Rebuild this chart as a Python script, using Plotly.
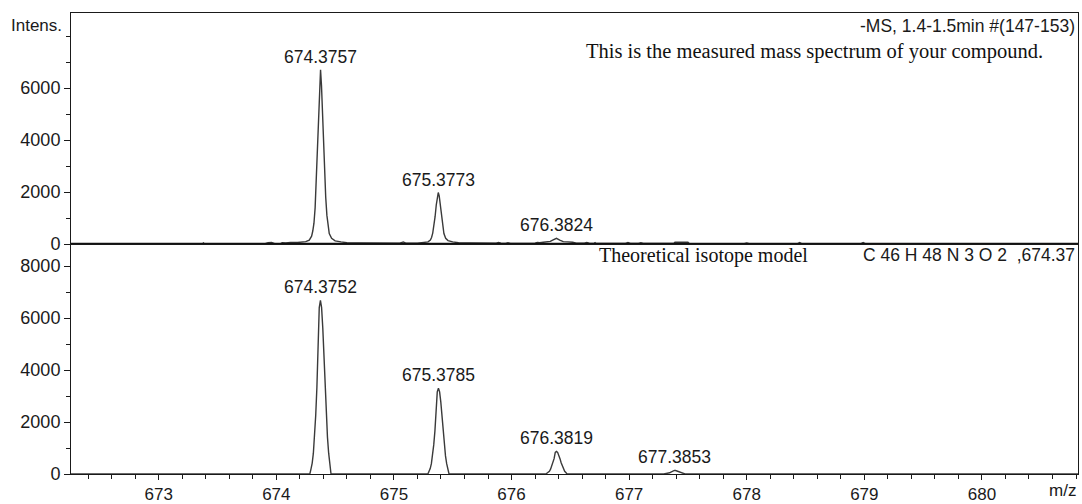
import plotly.graph_objects as go
from plotly.subplots import make_subplots

# ---------------- data ----------------
# measured profile spectrum (top panel)
measured_mz = [
    672.25, 673.37, 673.38, 673.39, 673.90, 673.93, 673.96, 673.99,
    674.03, 674.05, 674.08, 674.12, 674.18, 674.22,
    674.25, 674.28, 674.30, 674.31, 674.32, 674.33, 674.34, 674.35, 674.36, 674.368,
    674.376, 674.384, 674.392, 674.40, 674.41, 674.42, 674.43, 674.44, 674.45, 674.47,
    674.50, 674.55, 674.60, 674.70, 674.80, 674.90, 675.00, 675.05, 675.08, 675.10,
    675.20, 675.25, 675.29, 675.31, 675.32, 675.33, 675.34, 675.35, 675.36, 675.37,
    675.377, 675.385, 675.395, 675.405, 675.415, 675.425, 675.44, 675.46, 675.50, 675.55,
    675.65, 675.80, 675.87, 675.89, 675.91, 675.95, 675.97, 675.99, 676.20, 676.22,
    676.24, 676.27, 676.30, 676.33, 676.35, 676.382, 676.41, 676.44, 676.48, 676.52,
    676.55, 676.62, 676.64, 676.66, 676.70, 676.71, 676.72, 676.97, 676.99, 677.01,
    677.08, 677.10, 677.12, 677.38, 677.39, 677.45, 677.50, 677.51, 677.98, 678.00,
    678.02, 678.43, 678.45, 678.47, 678.97, 678.99, 679.01, 680.82,
]
measured_int = [
    0, 0, 40, 0, 0, 50, 60, 0,
    0, 50, 40, 60, 60, 80,
    90, 150, 300, 500, 800, 1400, 2500, 3800, 5200, 6100,
    6700, 6100, 5100, 4000, 2800, 1800, 1100, 650, 400, 220,
    120, 80, 50, 40, 40, 40, 30, 30, 80, 30,
    30, 50, 80, 150, 250, 420, 700, 1050, 1500, 1880,
    1980, 1850, 1450, 1000, 650, 400, 220, 130, 80, 50,
    40, 30, 30, 60, 30, 20, 50, 20, 30, 60,
    50, 70, 80, 100, 150, 220, 150, 90, 80, 70,
    30, 30, 60, 30, 20, 50, 20, 20, 60, 20,
    20, 50, 20, 20, 70, 80, 70, 20, 10, 40,
    10, 10, 60, 10, 10, 60, 10, 0,
]

# theoretical isotope model profile (bottom panel)
theory_mz = [
    672.25,
    674.285, 674.295, 674.305, 674.315, 674.325, 674.335, 674.345, 674.355, 674.365,
    674.375, 674.385, 674.395, 674.405, 674.415, 674.425, 674.435, 674.445, 674.455, 674.465,
    675.2885, 675.2985, 675.3085, 675.3185, 675.3285, 675.3385, 675.3485, 675.3585, 675.3685,
    675.3785, 675.3885, 675.3985, 675.4085, 675.4185, 675.4285, 675.4385, 675.4485, 675.4585, 675.4685,
    676.292, 676.302, 676.312, 676.322, 676.332, 676.342, 676.352, 676.362, 676.372,
    676.382, 676.392, 676.402, 676.412, 676.422, 676.432, 676.442, 676.452, 676.462, 676.472,
    677.295, 677.305, 677.315, 677.325, 677.335, 677.345, 677.355, 677.365, 677.375,
    677.385, 677.395, 677.405, 677.415, 677.425, 677.435, 677.445, 677.455, 677.465, 677.475,
    680.82,
]
theory_int = [
    0,
    0, 200, 420, 800, 1410, 2260, 3340, 4530, 6400,
    6680, 6400, 5620, 4530, 3340, 2260, 1410, 800, 420, 0,
    0, 99, 208, 396, 696, 1119, 1650, 2237, 3160,
    3300, 3160, 2775, 2237, 1650, 1119, 696, 396, 208, 0,
    0, 26, 55, 104, 184, 295, 435, 590, 833,
    870, 833, 732, 590, 435, 295, 184, 104, 55, 0,
    0, 4, 9, 17, 30, 47, 70, 95, 134,
    140, 134, 118, 95, 70, 47, 30, 17, 9, 0,
    0,
]

measured_label_mz = [674.3757, 675.3773, 676.3824]
measured_label_int = [6700, 1980, 220]
measured_labels = ["674.3757", "675.3773", "676.3824"]

theory_label_mz = [674.3752, 675.3785, 676.3819, 677.3853]
theory_label_int = [6680, 3300, 870, 140]
theory_labels = ["674.3752", "675.3785", "676.3819", "677.3853"]

x_ticks = [673, 674, 675, 676, 677, 678, 679, 680]
top_y_ticks = [0, 2000, 4000, 6000]
top_y_minor = [1000, 3000, 5000, 7000, 8000]
bottom_y_ticks = [0, 2000, 4000, 6000, 8000]
bottom_y_minor = [1000, 3000, 5000, 7000]

# ---------------- figure ----------------
SANS = "Liberation Sans, Arial, sans-serif"
SERIF = "Liberation Serif, Times New Roman, serif"
AX = "#1a1a1a"
LINE = "#3a3a3a"
TXT = "#1a1a1a"

fig = make_subplots(rows=2, cols=1, shared_xaxes=False, vertical_spacing=0)

fig.add_trace(go.Scatter(x=measured_mz, y=measured_int, mode="lines",
                         line=dict(color=LINE, width=1.4), showlegend=False,
                         hoverinfo="skip"), row=1, col=1)
fig.add_trace(go.Scatter(x=theory_mz, y=theory_int, mode="lines",
                         line=dict(color=LINE, width=1.4), showlegend=False,
                         hoverinfo="skip"), row=2, col=1)

XR = [672.254, 680.817]
SPLIT = 230 / 461

fig.update_layout(
    width=1082, height=504,
    margin=dict(l=71, r=4, t=13, b=30, autoexpand=False),
    paper_bgcolor="white", plot_bgcolor="white",
    font=dict(family=SANS, size=18, color=TXT),
    xaxis=dict(domain=[0, 1], range=XR, showline=True, linecolor=AX, linewidth=1,
               mirror=True, ticks="", showticklabels=False, showgrid=False,
               zeroline=False, automargin=False),
    yaxis=dict(domain=[SPLIT, 1], range=[0, 8885], showline=True, linecolor=AX,
               linewidth=1, mirror=True, ticks="outside", ticklen=6, tickwidth=1,
               tickcolor=AX, tickmode="array", tickvals=top_y_ticks,
               showgrid=False, zeroline=False, automargin=False,
               minor=dict(tickmode="array", tickvals=top_y_minor, ticks="outside",
                          ticklen=4, tickcolor=AX, showgrid=False)),
    xaxis2=dict(domain=[0, 1], range=XR, showline=True, linecolor=AX, linewidth=1,
                mirror=False, ticks="outside", ticklen=5, tickwidth=1, tickcolor=AX,
                tickmode="array", tickvals=x_ticks, showgrid=False, zeroline=False,
                automargin=False, tickfont=dict(size=17),
                minor=dict(dtick=0.2, tick0=673, ticks="outside", ticklen=4,
                           tickcolor=AX, showgrid=False)),
    yaxis2=dict(domain=[0, SPLIT], range=[0, 8846], showline=True, linecolor=AX,
                linewidth=1, mirror=True, ticks="outside", ticklen=6, tickwidth=1,
                tickcolor=AX, tickmode="array", tickvals=bottom_y_ticks,
                showgrid=False, zeroline=False, automargin=False,
                minor=dict(tickmode="array", tickvals=bottom_y_minor, ticks="outside",
                           ticklen=4, tickcolor=AX, showgrid=False)),
)

# thick baseline between the two panels (top panel zero line)
fig.add_shape(type="line", xref="x domain", yref="y", x0=0, x1=1, y0=0, y1=0,
              line=dict(color="#111111", width=2.4))

# peak labels
for mz, inten, txt in zip(measured_label_mz, measured_label_int, measured_labels):
    fig.add_annotation(x=mz, y=inten, xref="x", yref="y", text=txt, showarrow=False,
                       yanchor="bottom", yshift=1, font=dict(size=17.5))
for mz, inten, txt in zip(theory_label_mz, theory_label_int, theory_labels):
    fig.add_annotation(x=mz, y=inten, xref="x2", yref="y2", text=txt, showarrow=False,
                       yanchor="bottom", yshift=1, font=dict(size=17.5))

# header / panel texts
fig.add_annotation(xref="paper", yref="paper", x=-0.007, y=1.0, xanchor="right",
                   yanchor="top", yshift=-1, text="Intens.", showarrow=False,
                   font=dict(size=17))
fig.add_annotation(xref="paper", yref="paper", x=0.999, y=1.0, xanchor="right",
                   yanchor="top", yshift=-1, text="-MS, 1.4-1.5min #(147-153)",
                   showarrow=False, font=dict(size=17.5))
fig.add_annotation(xref="paper", yref="paper", x=0.967, y=1.0, xanchor="right",
                   yanchor="top", yshift=-25,
                   text="This is the measured mass spectrum of your compound.",
                   showarrow=False, font=dict(family=SERIF, size=20.5, color="#111111"))
fig.add_annotation(xref="paper", yref="paper", x=0.522, y=SPLIT, xanchor="left",
                   yanchor="top", yshift=2, text="Theoretical isotope model",
                   showarrow=False, font=dict(family=SERIF, size=20, color="#111111"))
fig.add_annotation(xref="paper", yref="paper", x=0.999, y=SPLIT, xanchor="right",
                   yanchor="top", yshift=1, text="C 46 H 48 N 3 O 2  ,674.37",
                   showarrow=False, font=dict(size=17.5))
fig.add_annotation(xref="paper", yref="paper", x=0.985, y=0, xanchor="center",
                   yanchor="top", yshift=-5, text="m/z", showarrow=False,
                   font=dict(size=17))

fig.write_html("out.html")
